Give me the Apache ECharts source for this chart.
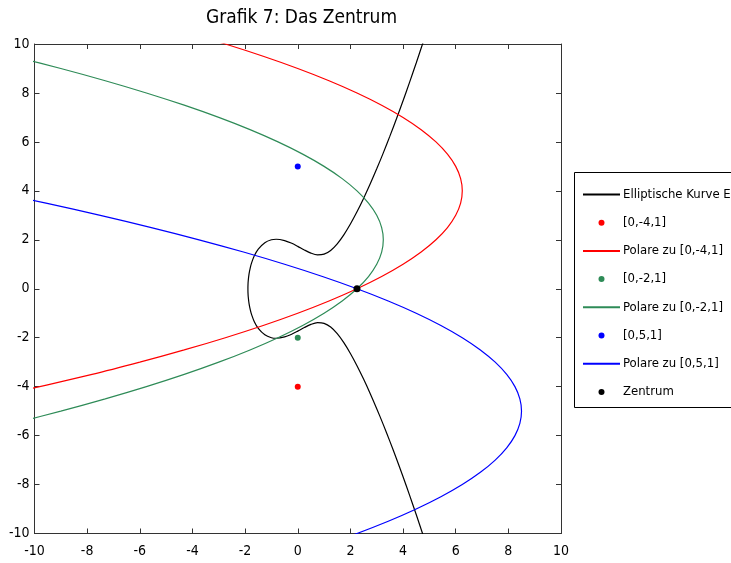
<!DOCTYPE html>
<html>
<head>
<meta charset="utf-8">
<script src="https://cdn.jsdelivr.net/npm/echarts@6/dist/echarts.min.js"></script>
<style>
html,body{margin:0;padding:0;background:#fff;}
#chart{width:731px;height:563px;}
</style>
</head>
<body>
<div id="chart"></div>
<script>
// ---- data ----
const ellipticCurve = [
  [4.8,10.198],[4.74,10.0],[4.5,9.226],[4.25,8.442],[4,7.681],[3.75,6.945],[3.5,6.235],[3.25,5.552],
  [3,4.899],[2.75,4.277],[2.5,3.691],[2.25,3.145],[2,2.646],[1.75,2.204],[1.5,1.837],[1.25,1.566],
  [1,1.414],[0.75,1.386],[0.5,1.458],[0.25,1.586],[0,1.732],[-0.25,1.867],[-0.5,1.969],[-0.82,2.022],
  [-1,2.0],[-1.25,1.883],[-1.5,1.62],[-1.65,1.345],[-1.75,1.068],[-1.8,0.876],[-1.85,0.607],
  [-1.88,0.339],[-1.89,0.169],[-1.893,0],
  [-1.89,-0.169],[-1.88,-0.339],[-1.85,-0.607],[-1.8,-0.876],[-1.75,-1.068],[-1.65,-1.345],
  [-1.5,-1.62],[-1.25,-1.883],[-1,-2.0],[-0.82,-2.022],[-0.5,-1.969],[-0.25,-1.867],[0,-1.732],
  [0.25,-1.586],[0.5,-1.458],[0.75,-1.386],[1,-1.414],[1.25,-1.566],[1.5,-1.837],[1.75,-2.204],
  [2,-2.646],[2.25,-3.145],[2.5,-3.691],[2.75,-4.277],[3,-4.899],[3.25,-5.552],[3.5,-6.235],
  [3.75,-6.945],[4,-7.681],[4.25,-8.442],[4.5,-9.226],[4.74,-10.0],[4.8,-10.198]
];
const polarRed = [
  [-11.8125,-4.5],[-7.8125,-3.5],[-6,-3],[-4.3125,-2.5],[-2.75,-2],[-1.3125,-1.5],[0,-1],
  [1.1875,-0.5],[2.25,0],[3.1875,0.5],[4,1],[4.6875,1.5],[5.25,2],[5.6875,2.5],[6,3],[6.1875,3.5],
  [6.25,4],[6.1875,4.5],[6,5],[5.6875,5.5],[5.25,6],[4.6875,6.5],[4,7],[3.1875,7.5],[2.25,8],
  [1.1875,8.5],[0,9],[-1.3125,9.5],[-2.75,10],[-4.3125,10.5]
];
const polarGreen = [
  [-10.8125,-5.5],[-9,-5],[-7.3125,-4.5],[-5.75,-4],[-4.3125,-3.5],[-3,-3],[-1.8125,-2.5],
  [-0.75,-2],[0.1875,-1.5],[1,-1],[1.6875,-0.5],[2.25,0],[2.6875,0.5],[3,1],[3.1875,1.5],[3.25,2],
  [3.1875,2.5],[3,3],[2.6875,3.5],[2.25,4],[1.6875,4.5],[1,5],[0.1875,5.5],[-0.75,6],[-1.8125,6.5],
  [-3,7],[-4.3125,7.5],[-5.75,8],[-7.3125,8.5],[-9,9],[-10.8125,9.5]
];
const polarBlue = [
  [0.9375,-10.5],[2.25,-10],[3.4375,-9.5],[4.5,-9],[5.4375,-8.5],[6.25,-8],[6.9375,-7.5],[7.5,-7],
  [7.9375,-6.5],[8.25,-6],[8.4375,-5.5],[8.5,-5],[8.4375,-4.5],[8.25,-4],[7.9375,-3.5],[7.5,-3],
  [6.9375,-2.5],[6.25,-2],[5.4375,-1.5],[4.5,-1],[3.4375,-0.5],[2.25,0],[0.9375,0.5],[-0.5,1],
  [-2.0625,1.5],[-3.75,2],[-5.5625,2.5],[-7.5,3],[-9.5625,3.5],[-11.75,4]
];
const pointRed = [[0,-4]];
const pointGreen = [[0,-2]];
const pointBlue = [[0,5]];
const centerPoint = [[2.25,0]];
const legendNames = ['Elliptische Kurve E','[0,-4,1]','Polare zu [0,-4,1]','[0,-2,1]',
  'Polare zu [0,-2,1]','[0,5,1]','Polare zu [0,5,1]','Zentrum'];
const titleText = 'Grafik 7: Das Zentrum';

// ---- chart ----
const FONT = "'Liberation Sans Narrow','DejaVu Sans Condensed','Liberation Sans',Arial,sans-serif";
const RED = '#ff0000', GREEN = '#2e8b57', BLUE = '#0000ff', BLACK = '#000000';
const AXC = '#333333';

function axis(pos, showLabel) {
  return {
    type: 'value', min: -10, max: 10, interval: 2, position: pos,
    axisLine: {show: true, onZero: false, lineStyle: {color: AXC, width: 1}},
    axisTick: {show: true, inside: true, length: 5, lineStyle: {color: AXC, width: 1}},
    axisLabel: {show: showLabel, color: '#000', fontSize: 14, fontFamily: FONT,
      margin: (pos === 'bottom') ? 11 : 5},
    splitLine: {show: false}
  };
}
function lineSeries(name, data, color) {
  return {name, type: 'line', data, symbol: 'none', smooth: 0.3, clip: true,
    lineStyle: {color, width: 1.2}, itemStyle: {color}, z: 2, animation: false};
}
function pointSeries(name, data, color, size) {
  return {name, type: 'scatter', data, symbol: 'circle', symbolSize: size,
    itemStyle: {color, opacity: 1}, z: 3, animation: false};
}
const legendData = legendNames.map(function (n, i) {
  const isLine = (i === 0 || i === 2 || i === 4 || i === 6);
  return isLine ? {name: n, itemStyle: {opacity: 0}} : {name: n, itemStyle: {opacity: 1}};
});

const chart = echarts.init(document.getElementById('chart'), null, {renderer: 'canvas'});
chart.setOption({
  backgroundColor: '#ffffff',
  animation: false,
  title: {
    text: titleText, left: 296.5, top: 4, textAlign: 'center',
    textStyle: {fontSize: 19, fontWeight: 'normal', color: '#000', fontFamily: FONT}
  },
  grid: {left: 34.5, top: 44, width: 526.5, height: 489.5, containLabel: false},
  xAxis: [axis('bottom', true), axis('top', false)],
  yAxis: [axis('left', true), axis('right', false)],
  graphic: [{
    type: 'rect', z: 0, silent: true,
    shape: {x: 574.5, y: 172.5, width: 300, height: 235},
    style: {fill: '#fff', stroke: '#000', lineWidth: 1}
  }],
  legend: {
    orient: 'vertical', left: 577, top: 183, padding: 5,
    itemWidth: 37, itemHeight: 6, itemGap: 15.2, z: 5,
    selectedMode: false, data: legendData,
    textStyle: {fontSize: 13, color: '#000', fontFamily: FONT, padding: [0, 0, 0, -2]}
  },
  series: [
    lineSeries(legendNames[0], ellipticCurve, BLACK),
    pointSeries(legendNames[1], pointRed, RED, 6),
    lineSeries(legendNames[2], polarRed, RED),
    pointSeries(legendNames[3], pointGreen, GREEN, 6),
    lineSeries(legendNames[4], polarGreen, GREEN),
    pointSeries(legendNames[5], pointBlue, BLUE, 6),
    lineSeries(legendNames[6], polarBlue, BLUE),
    pointSeries(legendNames[7], centerPoint, BLACK, 7)
  ]
});
</script>
</body>
</html>
